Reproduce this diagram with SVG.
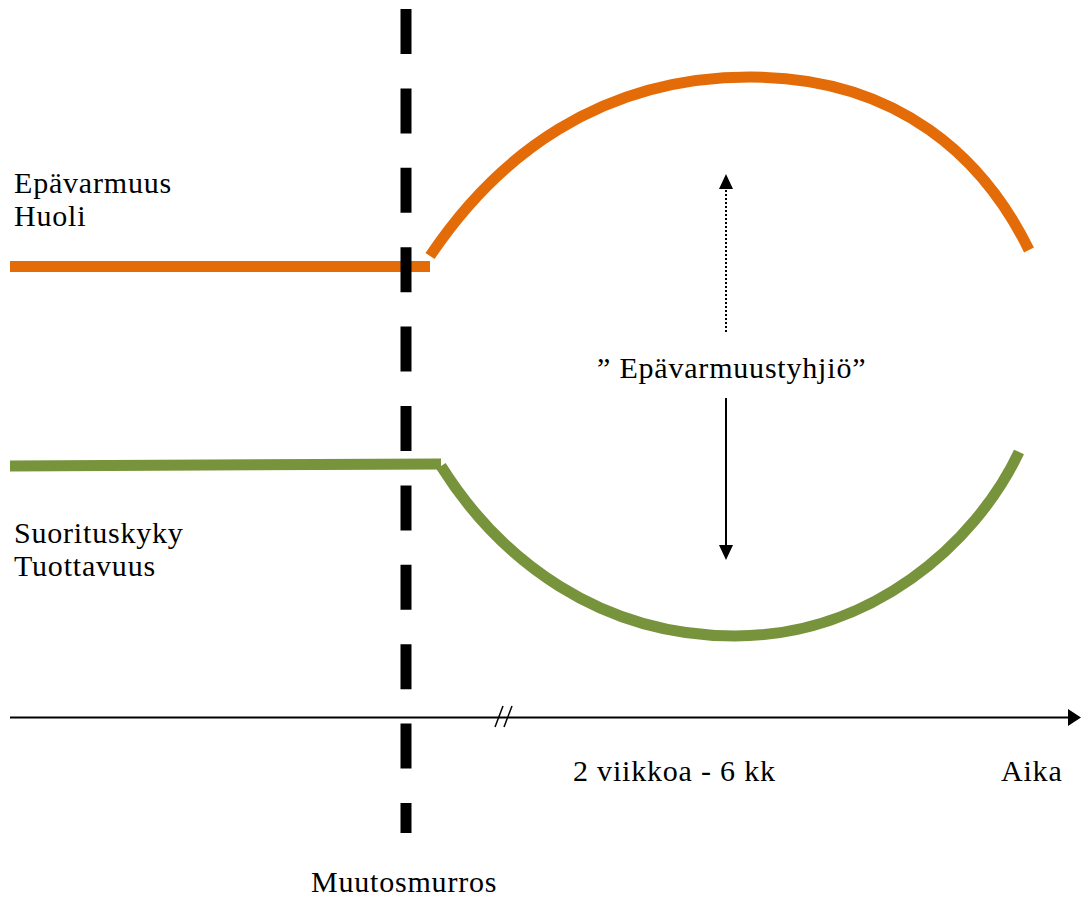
<svg xmlns="http://www.w3.org/2000/svg" width="1081" height="897" viewBox="0 0 1081 897">
<style>
.t{font-family:"Liberation Serif","Times New Roman",serif;font-size:30px;letter-spacing:0.8px;fill:#000}
.or{stroke:#E36C09;stroke-width:11;fill:none}
.gr{stroke:#77933C;stroke-width:11;fill:none}
</style>
<rect width="1081" height="897" fill="#fff"/>
<g id="curves">
<line class="or" x1="10" y1="266.5" x2="430" y2="266.5"/>
<path class="or" d="M430,256 C497,156 600,77 750,77 C900,77 985,160 1029,250"/>
<line class="gr" x1="10" y1="466" x2="441" y2="464"/>
<path class="gr" d="M441,466 C500,560 600,636 735,636 C870,636 975,545 1019,452"/>
</g>
<g id="connectors">
<line x1="406" y1="9" x2="406" y2="833" stroke="#000" stroke-width="11" stroke-dasharray="45 34.4"/>
<line x1="10" y1="717.5" x2="1070" y2="717.5" stroke="#000" stroke-width="2"/>
<path d="M1068,709 L1081,717.5 L1068,726 Z" fill="#000"/>
<line x1="495" y1="727" x2="503" y2="706" stroke="#000" stroke-width="1.5"/>
<line x1="504" y1="727" x2="512" y2="706" stroke="#000" stroke-width="1.5"/>
<line x1="726" y1="332" x2="726" y2="189" stroke="#000" stroke-width="2" stroke-dasharray="2 2"/>
<path d="M719,189 L726,174 L733,189 Z" fill="#000"/>
<line x1="726" y1="398" x2="726" y2="546" stroke="#000" stroke-width="2"/>
<path d="M719,545 L726,560 L733,545 Z" fill="#000"/>
</g>
<g id="labels">
<text class="t" x="14" y="193">Epävarmuus</text>
<text class="t" x="14" y="226">Huoli</text>
<text class="t" x="14" y="543">Suorituskyky</text>
<text class="t" x="14" y="576">Tuottavuus</text>
<text class="t" x="597" y="378">” Epävarmuustyhjiö”</text>
<text class="t" x="573" y="781">2 viikkoa - 6 kk</text>
<text class="t" x="1001" y="781">Aika</text>
<text class="t" x="311" y="892">Muutosmurros</text>
</g>
</svg>
